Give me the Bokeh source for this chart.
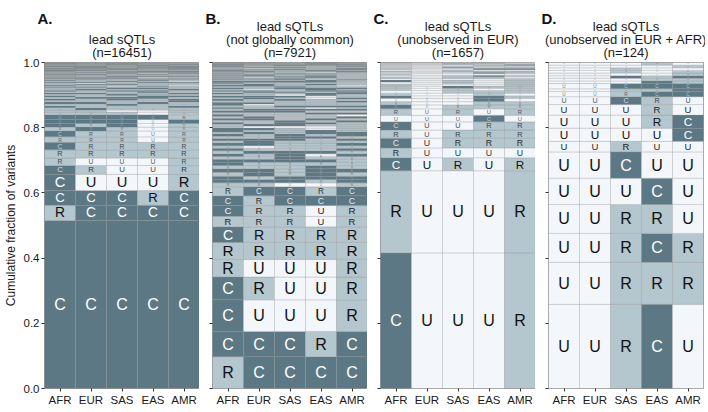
from bokeh.plotting import figure
from bokeh.layouts import row
from bokeh.models import ColumnDataSource, Range1d, FixedTicker, Label, PrintfTickFormatter
from bokeh.embed import file_html
from bokeh.resources import INLINE
from bokeh.core.properties import value, field

populations = ["AFR", "EUR", "SAS", "EAS", "AMR"]
state_colors = {"C": (93, 120, 133), "R": (180, 198, 206), "U": (243, 247, 251)}
text_colors = {"C": (255, 255, 255), "R": (17, 17, 17), "U": (17, 17, 17)}
y_ticks = [0.0, 0.2, 0.4, 0.6, 0.8, 1.0]

panel_letters = ["A.", "B.", "C.", "D."]
panel_titles = [
    [" ", "lead sQTLs", "(n=16451)"],
    ["lead sQTLs", "(not globally common)", "(n=7921)"],
    ["lead sQTLs", "(unobserved in EUR)", "(n=1657)"],
    ["lead sQTLs", "(unobserved in EUR + AFR)", "(n=124)"],
]

# Panel A (bottom -> top), fractions of variants
a_patterns = [
    "CCCCC", "RCCCC", "CCCRC", "CUUUR", "CRUUR", "RUUUR", "RRRRR", "CRRRR", "RRRUR", "CRRUR",
    "RCRUR", "CRCUR", "CCCUC", "CCCCR",
    "RRRUR", "RRUUR", "RCRRR", "CRRRC", "RRCRR", "CCRCR", "RRRRC", "CRCRC", "RCCCR", "CRRCC", "RRCRR", "CCRRC",
    "RRRCR", "CRCCR", "RCRRC", "RRCCR", "CCRRR", "RRUCR", "CRRRU", "RCCRR", "RURRR", "CCRCC", "RRCRU", "CRRCR",
    "RCRCR", "RRRRC", "CCCRR", "RCRUR", "CRCRR", "RRCCC", "CURRR", "RCRRR", "CCRCR", "RRCRC", "CRRUR", "RCCCC",
    "CRCCC", "RRRCC", "CCRRR",
    "RCRRC", "CRCRC", "RRCRR", "CCRCC", "RCCRR", "CRRRC", "RRRUR", "CCCRC", "RCRCC", "CRRCR", "RRCCR", "CCRRC",
    "RCRRR", "CRCCR", "RRRCR", "CCCCR", "RCCRC", "CRRRR", "RRCRC", "CCRCR", "RCRCR", "CRCRR", "RRRRR",
]
a_fracs = [
    0.515, 0.047, 0.045, 0.050, 0.027, 0.023, 0.025, 0.023, 0.017, 0.018,
    0.012, 0.011, 0.012, 0.015,
    0.008, 0.006, 0.007, 0.006, 0.006, 0.006, 0.005, 0.005, 0.005, 0.005, 0.004, 0.004,
    0.004, 0.004, 0.004, 0.004, 0.003, 0.003, 0.003, 0.003, 0.003, 0.003, 0.003, 0.003,
    0.002, 0.002, 0.002, 0.002, 0.002, 0.002, 0.002, 0.002, 0.002, 0.002, 0.002, 0.002,
    0.002, 0.002, 0.002,
    0.001, 0.001, 0.001, 0.001, 0.001, 0.001, 0.001, 0.001, 0.001, 0.001, 0.001, 0.001,
    0.001, 0.001, 0.001, 0.001, 0.001, 0.001, 0.001, 0.001, 0.001, 0.001, 0.001,
]

# Panel B (bottom -> top)
b_patterns = [
    "RCCCC", "CCCRC", "CUUUR", "CRUUR", "RUUUR", "RRRRR", "CRRRR", "RRRUR", "CRRUR", "CRCCC", "RCCRC",
    "RRUUR", "CCCRC", "CRCCC", "RCRCR", "CCRCC", "RRRCR", "CRRRR", "CCCCR", "RRCRR", "CRCUC",
    "RCCCR", "CRRRC", "RURRR", "CCRRC", "RCRRR", "CCCRC", "RRCCR", "CRCRC", "RCRCC", "CRRCR",
    "CCRUR", "RUUUR", "RCCRR", "CRCCR", "RRCRC", "CCRCR", "RCRRC", "CRRRU", "RRRCC", "CCCRR",
    "RCCCC", "CRRUR", "RRCCC", "CURRR", "CCRRR", "RRRRC", "CRCRR", "RCRUC", "CCCUR", "RRUCR",
    "CRRCC", "RCCRC", "CCRCC", "RURCR", "CRCCC", "RRCRR", "CCRRU", "RCRCR", "CRRRR", "CCCCR",
    "RRRCR", "CRCRC", "RCCUR", "CURCR", "RRCCR", "CCRCR", "RCRRR", "CRCCR", "RRRUR", "CCRRC",
    "RCRCC", "CRRCR", "RRCRC", "CCCRC", "RURRC", "CRCRR", "RCCRR", "CRRRC", "RRCCC",
    "CRCRR", "RCRRC", "CCRCR", "RRCRR", "CRRCC", "RCCRC", "CRRRR", "RRRCR", "CCRCC",
]
b_fracs = [
    0.0975, 0.0775, 0.097, 0.070, 0.054, 0.052, 0.048, 0.032, 0.033, 0.030, 0.028,
    0.012, 0.010, 0.010, 0.012, 0.011, 0.010, 0.010, 0.009, 0.009, 0.008,
    0.009, 0.008, 0.008, 0.008, 0.007, 0.007, 0.007, 0.007, 0.006, 0.006,
    0.006, 0.006, 0.006, 0.006, 0.006, 0.006, 0.006, 0.006, 0.006, 0.006,
    0.005, 0.005, 0.005, 0.005, 0.005, 0.005, 0.005, 0.005, 0.005, 0.005,
    0.004, 0.004, 0.004, 0.004, 0.004, 0.004, 0.004, 0.004, 0.004, 0.004,
    0.003, 0.003, 0.003, 0.003, 0.003, 0.003, 0.003, 0.003, 0.003, 0.003,
    0.002, 0.002, 0.002, 0.002, 0.002, 0.002, 0.002, 0.002, 0.002,
    0.001, 0.001, 0.001, 0.001, 0.001, 0.001, 0.001, 0.001, 0.001,
]

# Panel C (bottom -> top)
c_patterns = [
    "CUUUR", "RUUUR", "CURUR", "RUUUU", "CURRR", "RURRR", "CUURR", "UUUCU", "RURUR",
    "CURRR", "RUURR", "UUUCU", "CUUCR", "RUURU", "UURRR", "RURUR", "RUCRR", "RUUUR", "UURUR",
    "CURUR", "UUUUR", "RURRU", "UURCR", "RUUUU", "UUUCR", "RURRR", "UURUU", "RUUCC", "UURRR",
    "RUCUR", "UUURU", "RUURC", "UURUR", "UUCRU", "RUURU",
]
c_fracs = [
    0.416, 0.252, 0.040, 0.030, 0.030, 0.025, 0.025, 0.020, 0.020,
    0.012, 0.010, 0.010, 0.008, 0.008, 0.008, 0.007, 0.007, 0.006, 0.006,
    0.006, 0.005, 0.005, 0.005, 0.005, 0.004, 0.004, 0.004, 0.004, 0.003,
    0.003, 0.003, 0.003, 0.002, 0.002, 0.002,
]

# Panel D (bottom -> top), counts out of 124
d_total = 124
d_patterns = [
    "UURCU", "UURRR", "UURCR", "UURRU", "UUUCU", "UUCUU", "UURUU", "UUUUC", "UUURC", "UUURU",
    "UUCRU", "UURCC", "UURRC", "UUCCC", "UUUCR", "UUURR", "UUCRC", "UUUUR", "UURUR", "UURUU",
    "UUUUR", "UUURU",
]
d_counts = [32, 16, 11, 11, 10, 10, 4, 5, 5, 4, 3, 2, 1, 2, 1, 1, 1, 1, 1, 1, 1, 1]
d_fracs = [c / d_total for c in d_counts]

FRAME_W = 155
FRAME_H = 326
FONT = "Liberation Sans"


def hexcol(rgb):
    return "#%02x%02x%02x" % tuple(int(round(v)) for v in rgb)


def blend(fg, bg, a):
    return hexcol([a * f + (1 - a) * b for f, b in zip(fg, bg)])


def make_panel(k, patterns, fracs):
    first = k == 0
    cells = dict(x=[], y=[], h=[], color=[])
    labels = dict(x=[], y=[], t=[], fs=[], tc=[])
    cum = 0.0
    for pat, f in zip(patterns, fracs):
        yc = cum + f / 2.0
        hpx = f * FRAME_H
        fs = min(16.0, 0.9 * hpx)
        alpha = max(0.0, min(1.0, (hpx - 1.0) / 11.0))
        for j, s in enumerate(pat):
            cells["x"].append(j)
            cells["y"].append(yc)
            cells["h"].append(f)
            cells["color"].append(hexcol(state_colors[s]))
            if hpx >= 2.0:
                labels["x"].append(j)
                labels["y"].append(yc)
                labels["t"].append(s)
                labels["fs"].append("%.1fpx" % fs)
                labels["tc"].append(blend(text_colors[s], state_colors[s], 0.25 + 0.75 * alpha))
        cum += f

    p = figure(frame_width=FRAME_W, frame_height=FRAME_H,
               x_range=Range1d(-0.5, 4.5), y_range=Range1d(0, 1),
               output_backend="svg", toolbar_location=None, title=None,
               min_border_left=35 if first else 13, min_border_right=0 if k < 3 else 2,
               min_border_top=55, min_border_bottom=22)

    p.rect(x="x", y="y", width=1, height="h", fill_color="color",
           line_color="#8c8c8c", line_alpha=0.35, line_width=0.8,
           source=ColumnDataSource(cells))
    p.text(x="x", y="y", text="t", text_font_size=field("fs"), text_color="tc",
           text_align="center", text_baseline="middle",
           text_font=value(FONT), source=ColumnDataSource(labels))

    p.xgrid.visible = False
    p.ygrid.visible = False
    p.outline_line_color = "#9a9a9a"
    p.outline_line_width = 1
    p.background_fill_color = "#ffffff"

    p.xaxis.ticker = FixedTicker(ticks=list(range(len(populations))))
    p.xaxis.major_label_overrides = {i: name for i, name in enumerate(populations)}
    p.yaxis.ticker = FixedTicker(ticks=y_ticks)
    p.yaxis.formatter = PrintfTickFormatter(format="%.1f")
    for ax in (p.xaxis[0], p.yaxis[0]):
        ax.axis_line_color = None
        ax.major_tick_line_color = "#333333"
        ax.major_tick_in = 0
        ax.major_tick_out = 3
        ax.minor_tick_line_color = None
        ax.major_label_text_font = FONT
        ax.major_label_text_color = "#1a1a1a"
        ax.major_label_text_font_size = "11.5px"
        ax.major_label_standoff = 2
    if first:
        p.yaxis.axis_label = "Cumulative fraction of variants"
        p.yaxis.axis_label_text_font = FONT
        p.yaxis.axis_label_text_font_style = "normal"
        p.yaxis.axis_label_text_font_size = "12px"
        p.yaxis.axis_label_text_color = "#1a1a1a"
        p.yaxis.axis_label_standoff = 3
        p.yaxis.major_label_standoff = 2
    else:
        p.yaxis.major_label_text_font_size = "0px"
        p.yaxis.major_label_standoff = 0

    lines = panel_titles[k]
    for i, line in enumerate(reversed(lines)):
        p.add_layout(Label(x=2, y=1, y_offset=10 + 12.8 * i, text=line,
                           text_align="center", text_baseline="alphabetic",
                           text_font=FONT, text_font_size="13px", text_color="#1a1a1a"),
                     "above")
    p.add_layout(Label(x=-0.5, y=1, x_offset=-7, y_offset=44, text=panel_letters[k],
                       text_align="left", text_baseline="alphabetic", text_font=FONT,
                       text_font_style="bold", text_font_size="15px", text_color="#111111"),
                 "above")
    return p


panels = [
    make_panel(0, a_patterns, a_fracs),
    make_panel(1, b_patterns, b_fracs),
    make_panel(2, c_patterns, c_fracs),
    make_panel(3, d_patterns, d_fracs),
]
layout = row(*panels)
open("out.html", "w").write(file_html(layout, INLINE))
